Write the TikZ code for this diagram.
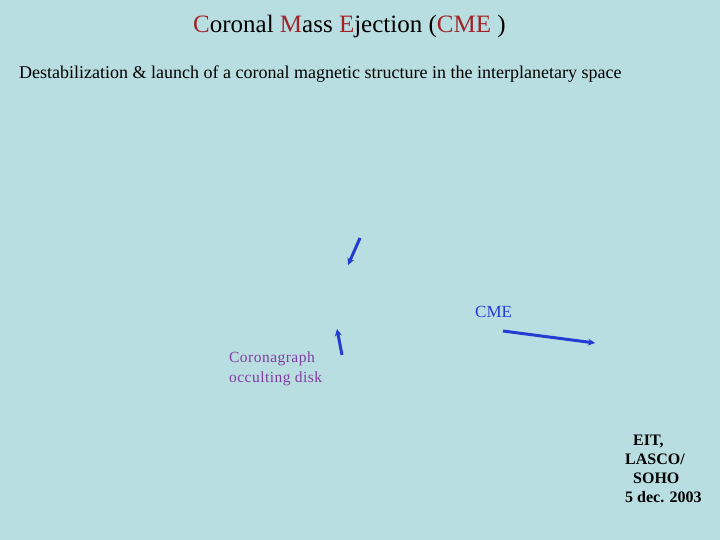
\documentclass[tikz,border=0pt]{standalone}
\usepackage{fontspec}
\setmainfont{Liberation Serif}
\usetikzlibrary{arrows.meta}
\definecolor{bg}{RGB}{185,222,226}
\definecolor{cmered}{RGB}{160,35,40}
\definecolor{arrblue}{RGB}{35,60,210}
\definecolor{purp}{RGB}{130,60,160}
\tikzset{
  blarrow/.style={draw=arrblue, line width=3pt, -{Stealth[length=7pt,width=7pt]}},
  txt/.style={inner sep=0pt, anchor=base west},
}
\begin{document}
\begin{tikzpicture}[x=1pt,y=-1pt]
\fill[bg] (0,0) rectangle (720,540);
\useasboundingbox (0,0) rectangle (720,540);
\node[txt, font=\fontsize{25}{30}\selectfont] (title) at (193,33)
  {\textcolor{cmered}{C}oronal \textcolor{cmered}{M}ass \textcolor{cmered}{E}jection (\textcolor{cmered}{CME} )};
\node[txt, font=\fontsize{18}{21}\selectfont] (sub) at (19,79)
  {Destabilization \& launch of a coronal magnetic structure in the interplanetary space};
\coordinate (a1s) at (360,238); \coordinate (a1e) at (348,265);
\draw[blarrow] (a1s) -- (a1e);
\coordinate (a2s) at (503,331); \coordinate (a2e) at (595,343);
\draw[blarrow] (a2s) -- (a2e);
\coordinate (a3s) at (342,355); \coordinate (a3e) at (337,329);
\draw[blarrow] (a3s) -- (a3e);
\node[txt, font=\fontsize{17}{20}\selectfont, text=arrblue] (cme) at (475,317) {CME};
\node[txt, font=\fontsize{15.5}{18}\selectfont\addfontfeature{LetterSpace=3}, text=purp] (cor1) at (229,362) {Coronagraph};
\node[txt, font=\fontsize{15.5}{18}\selectfont\addfontfeature{LetterSpace=3}, text=purp] (cor2) at (229,382) {occulting disk};
\node[txt, font=\bfseries\fontsize{16}{19}\selectfont] (e1) at (633,445) {EIT,};
\node[txt, font=\bfseries\fontsize{16}{19}\selectfont] (e2) at (625,464) {LASCO/};
\node[txt, font=\bfseries\fontsize{16}{19}\selectfont] (e3) at (633,483) {SOHO};
\node[txt, font=\bfseries\fontsize{16}{19}\selectfont] (e4) at (625,502) {5 dec. 2003};
\end{tikzpicture}
\end{document}
